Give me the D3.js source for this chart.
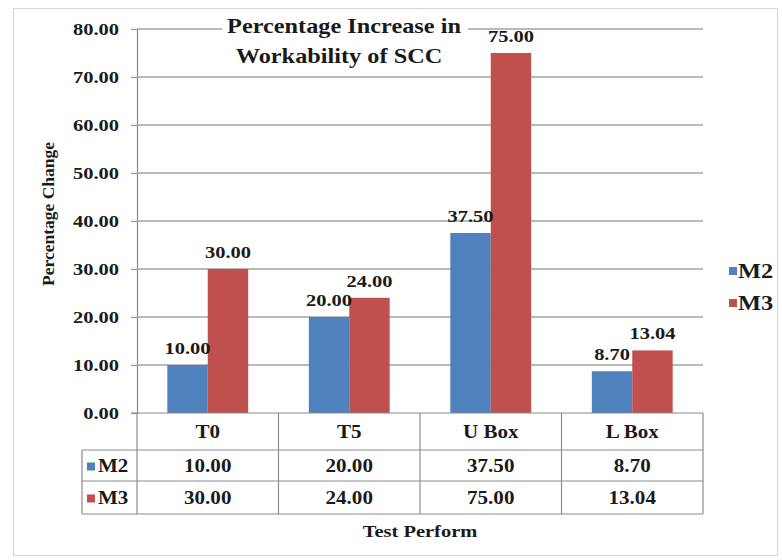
<!DOCTYPE html>
<html>
<head>
<meta charset="utf-8">
<script src="https://cdn.jsdelivr.net/npm/d3@7"></script>
<style>
  html, body { margin: 0; padding: 0; background: #fff; }
  svg { display: block; }
  text { font-family: "Liberation Serif", "Times New Roman", serif; font-weight: bold; fill: #1a1a1a; }
</style>
</head>
<body>
<svg id="chart" width="782" height="560"></svg>
<script>
// Workability test results for the two SCC mixes
const categories = ["T0", "T5", "U Box", "L Box"];
const seriesNames = ["M2", "M3"];
const m2Values = [10.00, 20.00, 37.50, 8.70];
const m3Values = [30.00, 24.00, 75.00, 13.04];
const seriesColors = ["#4F81BD", "#C0504D"];
const yTicks = [0, 10, 20, 30, 40, 50, 60, 70, 80];
const titleLines = ["Percentage Increase in", "Workability of SCC"];
const yTitle = "Percentage Change";
const xTitle = "Test Perform";

const seriesValues = [m2Values, m3Values];
const fmt = d3.format(".2f");
const SX = 1.17; // horizontal widening of the serif labels

const svg = d3.select("#chart");

// chart area frame
svg.append("rect")
  .attr("x", 13.5).attr("y", 8.5).attr("width", 764).attr("height", 547)
  .attr("fill", "#fff").attr("stroke", "#d4d4d4").attr("stroke-width", 1);

const plot = { left: 137, right: 703, top: 29, bottom: 413 };

const x = d3.scaleBand().domain(categories).range([plot.left, plot.right]).padding(0);
const xs = d3.scaleBand().domain(seriesNames).range([0, x.bandwidth()])
  .paddingInner(0).paddingOuter(0.75);
const y = d3.scaleLinear().domain([0, 80]).range([plot.bottom, plot.top]);

function wideText(sel, px, py, str, size, anchor, sx) {
  return sel.append("text")
    .attr("transform", `translate(${px},${py}) scale(${sx || SX},1)`)
    .attr("text-anchor", anchor || "middle")
    .attr("dominant-baseline", "central")
    .style("font-size", size + "px")
    .text(str);
}

// gridlines and y axis
const yAxis = d3.axisLeft(y).tickValues(yTicks).tickSize(6).tickFormat("");
const gAxis = svg.append("g").attr("transform", `translate(${plot.left},0)`).call(yAxis);
gAxis.select(".domain").attr("stroke", "#8a8a8a").attr("stroke-width", 1.2);
gAxis.selectAll(".tick line").attr("stroke", "#9a9a9a").attr("stroke-width", 1.2);

svg.append("g").selectAll("line").data(yTicks.filter(d => d > 0)).join("line")
  .attr("x1", plot.left).attr("x2", plot.right)
  .attr("y1", d => y(d)).attr("y2", d => y(d))
  .attr("stroke", "#a3a3a3").attr("stroke-width", 1.3);

// y tick labels
const gTickLabels = svg.append("g");
yTicks.forEach(t => wideText(gTickLabels, 119, y(t), fmt(t), 17.5, "end"));

// title with its own white backing
const gTitle = svg.append("g");
gTitle.append("rect").attr("fill", "#fff")
  .attr("x", 222).attr("y", 14).attr("width", 246).attr("height", 56);
wideText(gTitle, 344, 26, titleLines[0], 21.5, "middle", 1.13);
wideText(gTitle, 339, 56, titleLines[1], 21.5, "middle", 1.13);

// bars
const gBars = svg.append("g");
seriesNames.forEach((s, si) => {
  gBars.selectAll(null).data(categories).join("rect")
    .attr("x", c => x(c) + xs(s))
    .attr("y", (c, i) => y(seriesValues[si][i]))
    .attr("width", xs.bandwidth())
    .attr("height", (c, i) => y(0) - y(seriesValues[si][i]))
    .attr("fill", seriesColors[si]);
});

// x axis line
svg.append("line")
  .attr("x1", plot.left - 6).attr("x2", plot.right)
  .attr("y1", plot.bottom).attr("y2", plot.bottom)
  .attr("stroke", "#8a8a8a").attr("stroke-width", 1.2);

// value labels above bars
const gLabels = svg.append("g");
seriesNames.forEach((s, si) => {
  categories.forEach((c, i) => {
    const v = seriesValues[si][i];
    wideText(gLabels, x(c) + xs(s) + xs.bandwidth() / 2, y(v) - 17, fmt(v), 17.5, "middle");
  });
});

// data table below the axis
const table = { left: 82, rowCat: [413, 450], rows: [[450, 481], [481, 514]] };
const gTable = svg.append("g").attr("stroke", "#8c8c8c").attr("stroke-width", 1.2);
const boundaries = categories.map(c => x(c)).concat([plot.right]);
boundaries.forEach(bx => {
  gTable.append("line").attr("x1", bx).attr("x2", bx)
    .attr("y1", table.rowCat[0]).attr("y2", table.rows[1][1]);
});
[table.rows[0][0], table.rows[1][0], table.rows[1][1]].forEach(ly => {
  gTable.append("line").attr("x1", table.left).attr("x2", plot.right)
    .attr("y1", ly).attr("y2", ly);
});
gTable.append("line").attr("x1", table.left).attr("x2", table.left)
  .attr("y1", table.rows[0][0]).attr("y2", table.rows[1][1]);

const gTableText = svg.append("g");
categories.forEach(c => {
  wideText(gTableText, x(c) + x.bandwidth() / 2, (table.rowCat[0] + table.rowCat[1]) / 2 + 1, c, 18, "middle");
});
seriesNames.forEach((s, si) => {
  const cy = (table.rows[si][0] + table.rows[si][1]) / 2 + 1;
  svg.append("rect").attr("x", 87).attr("y", cy - 4).attr("width", 8).attr("height", 8)
    .attr("fill", seriesColors[si]);
  wideText(gTableText, 98, cy, s, 18, "start");
  categories.forEach((c, i) => {
    wideText(gTableText, x(c) + x.bandwidth() / 2, cy, fmt(seriesValues[si][i]), 18, "middle");
  });
});

// axis titles
wideText(svg, (plot.left + plot.right) / 2, 531, xTitle, 17.5, "middle");
svg.append("text")
  .attr("transform", `translate(48,214) rotate(-90)`)
  .attr("text-anchor", "middle")
  .attr("dominant-baseline", "central")
  .style("font-size", "17.5px")
  .text(yTitle);

// legend
const gLegend = svg.append("g");
seriesNames.forEach((s, si) => {
  const ly = 271 + si * 32;
  gLegend.append("rect").attr("x", 729).attr("y", ly - 4).attr("width", 8).attr("height", 8)
    .attr("fill", seriesColors[si]);
  wideText(gLegend, 738, ly, s, 20, "start", 1.22);
});
</script>
</body>
</html>
